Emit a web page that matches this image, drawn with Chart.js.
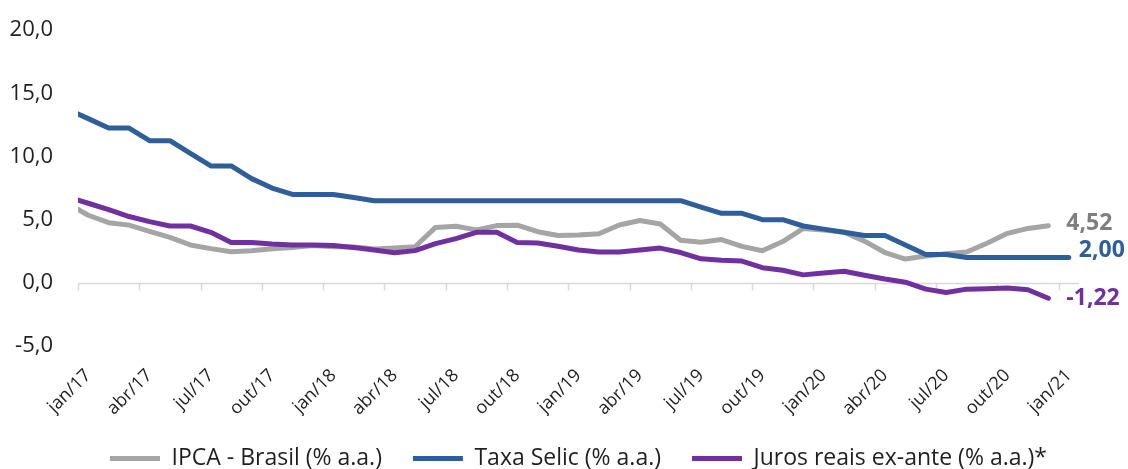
<!DOCTYPE html>
<html lang="pt-BR">
<head>
<meta charset="utf-8">
<script src="https://cdn.jsdelivr.net/npm/chart.js@4.4.1/dist/chart.umd.min.js"></script>
<style>
  html, body { margin: 0; padding: 0; background: #fff; }
  #wrap { width: 1128px; height: 469px; position: relative; }
</style>
</head>
<body>
<div id="wrap"><canvas id="chart"></canvas></div>
<script>
/* ================================================
   DATA  (dez/16 .. jan/21, one entry per month)
================================================ */

const months = [
  'dez/16',
  'jan/17','fev/17','mar/17','abr/17','mai/17','jun/17','jul/17','ago/17','set/17','out/17','nov/17','dez/17',
  'jan/18','fev/18','mar/18','abr/18','mai/18','jun/18','jul/18','ago/18','set/18','out/18','nov/18','dez/18',
  'jan/19','fev/19','mar/19','abr/19','mai/19','jun/19','jul/19','ago/19','set/19','out/19','nov/19','dez/19',
  'jan/20','fev/20','mar/20','abr/20','mai/20','jun/20','jul/20','ago/20','set/20','out/20','nov/20','dez/20',
  'jan/21'
];

/* IPCA - Brasil, 12 months (% a.a.) */
const ipca = [
  6.29,
  5.35, 4.76, 4.57, 4.08, 3.60, 3.00, 2.71, 2.46, 2.54, 2.70, 2.80, 2.95,
  2.86, 2.84, 2.68, 2.76, 2.86, 4.39, 4.48, 4.19, 4.53, 4.56, 4.05, 3.75,
  3.78, 3.89, 4.58, 4.94, 4.66, 3.37, 3.22, 3.43, 2.89, 2.54, 3.27, 4.31,
  4.19, 4.01, 3.30, 2.40, 1.88, 2.13, 2.31, 2.44, 3.14, 3.92, 4.31, 4.52,
  null
];

/* Taxa Selic (% a.a.) */
const selic = [
  13.75,
  13.00, 12.25, 12.25, 11.25, 11.25, 10.25, 9.25, 9.25, 8.25, 7.50, 7.00, 7.00,
  7.00, 6.75, 6.50, 6.50, 6.50, 6.50, 6.50, 6.50, 6.50, 6.50, 6.50, 6.50,
  6.50, 6.50, 6.50, 6.50, 6.50, 6.50, 6.00, 5.50, 5.50, 5.00, 5.00, 4.50,
  4.25, 4.00, 3.75, 3.75, 3.00, 2.25, 2.25, 2.00, 2.00, 2.00, 2.00, 2.00,
  2.00
];

/* Juros reais ex-ante (% a.a.) */
const juros = [
  6.80,
  6.30, 5.80, 5.25, 4.85, 4.50, 4.50, 4.00, 3.20, 3.20, 3.07, 3.00, 3.00,
  2.95, 2.80, 2.60, 2.38, 2.55, 3.10, 3.50, 4.00, 4.00, 3.20, 3.15, 2.90,
  2.60, 2.45, 2.45, 2.60, 2.75, 2.40, 1.90, 1.78, 1.72, 1.20, 1.00, 0.63,
  0.78, 0.92, 0.60, 0.30, 0.05, -0.50, -0.76, -0.50, -0.46, -0.40, -0.55, -1.22,
  null
];

const seriesNames = ['IPCA - Brasil (% a.a.)', 'Taxa Selic (% a.a.)', 'Juros reais ex-ante (% a.a.)*'];

/* label every 3 months, starting at jan/17 */
const tickIdx = months.map((_, i) => i).filter(i => (i - 1) % 3 === 0);

/* ================================================
   HELPERS
================================================ */

const FONT = '"Open Sans", "Noto Sans", sans-serif';

function fmt(v, d) {
  return v.toFixed(d).replace('.', ',');
}

function toPoints(arr) {
  return arr.map((v, i) => ({ x: i, y: v }));
}

/* axis line at 0 with tick marks between categories */
const zeroAxis = {
  id: 'zeroAxis',
  beforeDatasetsDraw(chart) {
    const { ctx, chartArea: a, scales: { x, y } } = chart;
    const y0 = Math.round(y.getPixelForValue(0)) + 0.5;
    ctx.save();
    ctx.strokeStyle = '#d9d9d9';
    ctx.lineWidth = 1.5;
    ctx.beginPath();
    ctx.moveTo(a.left, y0);
    ctx.lineTo(a.right, y0);
    tickIdx.forEach(i => {
      const px = Math.round(x.getPixelForValue(i - 0.5)) + 0.5;
      ctx.moveTo(px, y0);
      ctx.lineTo(px, y0 + 7);
    });
    ctx.stroke();
    ctx.restore();
  }
};

/* value label after the last point of each series */
const endLabels = {
  id: 'endLabels',
  afterDatasetsDraw(chart) {
    const { ctx } = chart;
    chart.data.datasets.forEach((ds, di) => {
      let last = ds.data.length - 1;
      while (last >= 0 && ds.data[last].y == null) last--;
      const pt = chart.getDatasetMeta(di).data[last];
      ctx.save();
      ctx.font = 'bold 23px ' + FONT;
      ctx.fillStyle = ds.endColor;
      ctx.textAlign = 'left';
      ctx.textBaseline = 'middle';
      ctx.fillText(fmt(ds.data[last].y, 2), pt.x + ds.endDx, pt.y + ds.endDy);
      ctx.restore();
    });
  }
};

/* legend centred under the plot area, not the whole canvas */
const legendUnderPlot = {
  id: 'legendUnderPlot',
  afterLayout(chart) {
    const lg = chart.legend;
    if (!lg) return;
    lg.left = chart.chartArea.left;
    lg.right = chart.chartArea.right;
  }
};

/* ================================================
   CHART
================================================ */

function lineDs(label, arr, color, endColor, endDx, endDy, order) {
  return {
    label,
    data: toPoints(arr),
    borderColor: color,
    backgroundColor: color,
    borderWidth: 5,
    borderCapStyle: 'round',
    borderJoinStyle: 'round',
    pointRadius: 0,
    tension: 0,
    clip: { left: 0, top: 10, right: 10, bottom: 10 },
    order,
    endColor, endDx, endDy
  };
}

new Chart(document.getElementById('chart'), {
  type: 'line',
  data: {
    datasets: [
      lineDs(seriesNames[0], ipca,  '#a5a5a5', '#7f7f7f', 18, -2, 3),
      lineDs(seriesNames[1], selic, '#2e5f9a', '#2e5f9a', 10, -7, 2),
      lineDs(seriesNames[2], juros, '#7030a0', '#7030a0', 18, 0, 1)
    ]
  },
  options: {
    responsive: true,
    maintainAspectRatio: false,
    animation: false,
    events: [],
    layout: { padding: { left: 0, right: 49, top: 24, bottom: -11 } },
    scales: {
      x: {
        type: 'linear',
        min: 0.5,
        max: months.length - 0.5,
        afterBuildTicks: s => { s.ticks = tickIdx.map(v => ({ value: v })); },
        afterFit: s => { s.height = 70; },
        grid: { display: false, drawTicks: false },
        border: { display: false },
        ticks: {
          autoSkip: false,
          minRotation: 45,
          maxRotation: 45,
          padding: 19,
          color: '#1f1f1f',
          font: { family: FONT, size: 18 },
          callback: v => months[v]
        }
      },
      y: {
        min: -5,
        max: 20,
        afterFit: s => { s.width = 78; },
        grid: { display: false },
        border: { display: false },
        ticks: {
          stepSize: 5,
          padding: 17,
          color: '#1f1f1f',
          font: { family: FONT, size: 22 },
          callback: v => fmt(v, 1)
        }
      }
    },
    plugins: {
      legend: {
        position: 'bottom',
        labels: {
          usePointStyle: true,
          pointStyle: 'line',
          pointStyleWidth: 50,
          padding: 31,
          color: '#1f1f1f',
          font: { family: FONT, size: 23 },
          sort: (a, b) => a.datasetIndex - b.datasetIndex
        }
      },
      tooltip: { enabled: false }
    }
  },
  plugins: [zeroAxis, endLabels, legendUnderPlot]
});
</script>
</body>
</html>
